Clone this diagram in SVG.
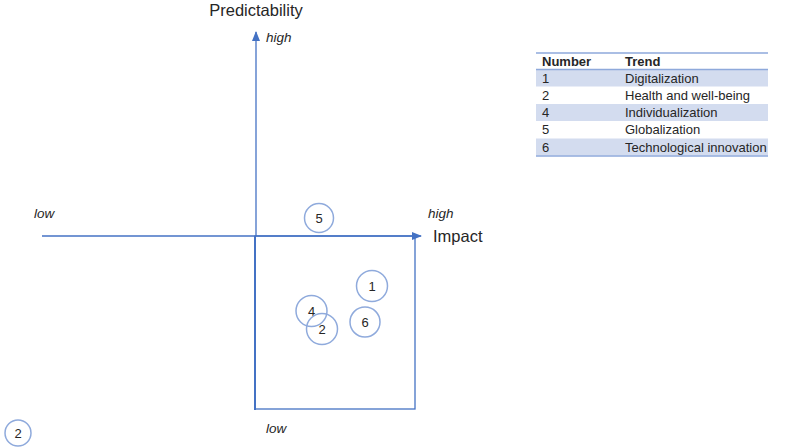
<svg xmlns="http://www.w3.org/2000/svg" width="796" height="448" viewBox="0 0 796 448">
  <defs>
    <marker id="arrow" markerWidth="10" markerHeight="8" refX="9" refY="4" orient="auto" markerUnits="userSpaceOnUse">
      <path d="M0,0 L10,4 L0,8 Z" fill="#4472C4"/>
    </marker>
    <style>
      text { font-family: "Liberation Sans", Arial, sans-serif; fill: #262626; }
      .title { font-size: 16.5px; }
      .axis-label { font-size: 13.5px; font-style: italic; }
      .trend circle { fill: none; stroke: #8FAADC; stroke-width: 1.5; }
      .trend text { font-size: 13px; text-anchor: middle; }
      .tbl { font-size: 13px; }
      .tbl-head { font-size: 13px; font-weight: bold; }
      .band { fill: #D3DCEF; }
      .rule { stroke: #8EA9DB; stroke-width: 1.5; }
    </style>
  </defs>

  <rect width="796" height="448" fill="#FFFFFF"/>

  <!-- axes and quadrant frame -->
  <g id="connectors" fill="none" stroke="#4472C4">
    <rect x="255" y="236" width="160" height="173" stroke-width="1.3"/>
    <line x1="255" y1="410" x2="255" y2="236" stroke-width="2"/>
    <line x1="256" y1="236" x2="256" y2="32" stroke-width="1.3" marker-end="url(#arrow)"/>
    <line x1="42" y1="236" x2="421" y2="236" stroke-width="1.3" marker-end="url(#arrow)"/>
  </g>

  <!-- axis titles and scale labels -->
  <g id="labels">
    <text class="title" x="256" y="16" text-anchor="middle">Predictability</text>
    <text class="title" x="433" y="241.5">Impact</text>
    <text class="axis-label" x="266" y="41.5">high</text>
    <text class="axis-label" x="428" y="217.5">high</text>
    <text class="axis-label" x="34" y="217.5">low</text>
    <text class="axis-label" x="266" y="432.5">low</text>
  </g>

  <!-- trend markers -->
  <g id="trend-5" class="trend"><circle cx="319" cy="218" r="14.5"/><text x="319" y="222.5">5</text></g>
  <g id="trend-1" class="trend"><circle cx="372" cy="286" r="15.5"/><text x="372" y="290.5">1</text></g>
  <g id="trend-4" class="trend"><circle cx="311.5" cy="311" r="15.5"/><text x="311.5" y="315.5">4</text></g>
  <g id="trend-2" class="trend"><circle cx="322" cy="329" r="15.5"/><text x="322" y="333.5">2</text></g>
  <g id="trend-6" class="trend"><circle cx="365" cy="322" r="15"/><text x="365" y="326.5">6</text></g>
  <g id="trend-2-legend" class="trend"><circle cx="18" cy="433" r="13"/><text x="18" y="437.5">2</text></g>

  <!-- legend table -->
  <g id="legend-table">
    <rect class="band" x="536" y="69.5" width="232" height="17"/>
    <rect class="band" x="536" y="104" width="232" height="17"/>
    <rect class="band" x="536" y="138.5" width="232" height="17"/>
    <line class="rule" x1="536" y1="53" x2="768" y2="53"/>
    <line class="rule" x1="536" y1="69.5" x2="768" y2="69.5"/>
    <line class="rule" x1="536" y1="156" x2="768" y2="156"/>
    <text class="tbl-head" x="542" y="65.5">Number</text>
    <text class="tbl-head" x="625" y="65.5">Trend</text>
    <text class="tbl" x="542" y="82.5">1</text>
    <text class="tbl" x="625" y="82.5">Digitalization</text>
    <text class="tbl" x="542" y="99.5">2</text>
    <text class="tbl" x="625" y="99.5">Health and well-being</text>
    <text class="tbl" x="542" y="117">4</text>
    <text class="tbl" x="625" y="117">Individualization</text>
    <text class="tbl" x="542" y="134">5</text>
    <text class="tbl" x="625" y="134">Globalization</text>
    <text class="tbl" x="542" y="151.5">6</text>
    <text class="tbl" x="625" y="151.5">Technological innovation</text>
  </g>
</svg>
